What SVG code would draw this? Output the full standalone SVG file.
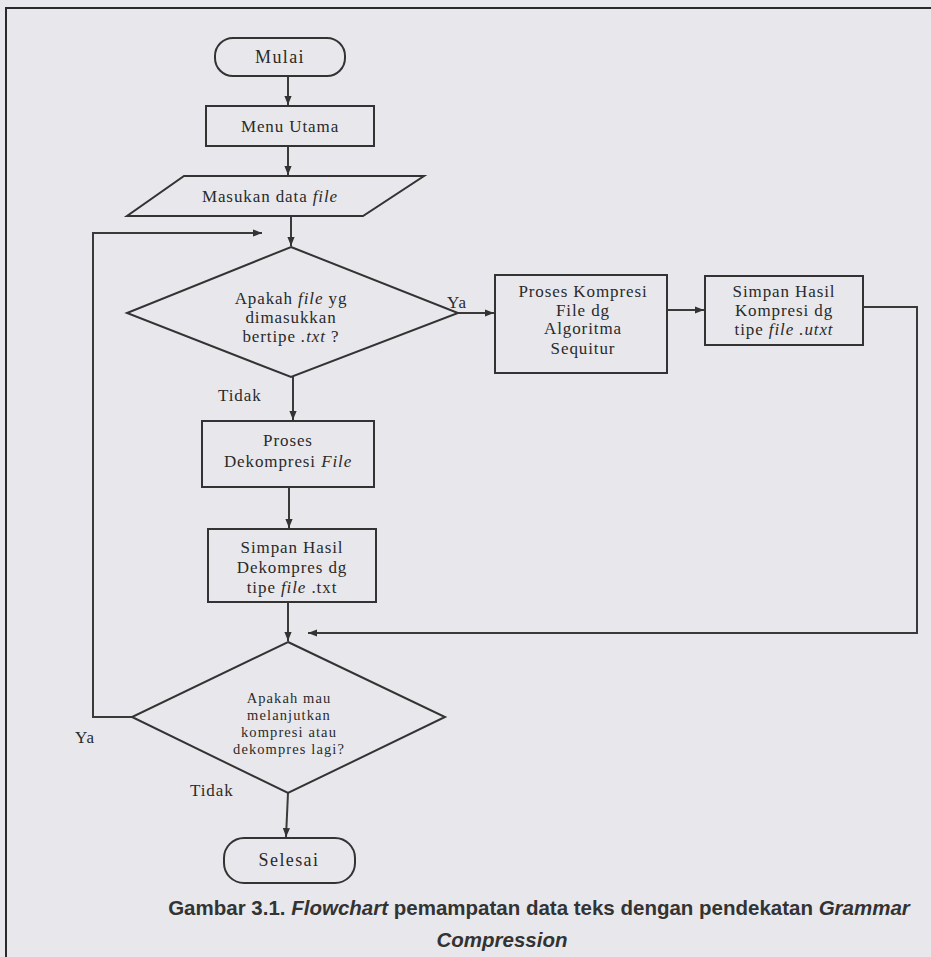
<svg xmlns="http://www.w3.org/2000/svg" width="931" height="957" viewBox="0 0 931 957">
<defs>
<marker id="ah" viewBox="0 0 10 10" refX="10" refY="5" markerWidth="9" markerHeight="9" markerUnits="userSpaceOnUse" orient="auto">
<path d="M0,1 L10,5 L0,9 Z" fill="#333"/>
</marker>
</defs>
<style>
.bg{fill:#e8e8ec}
.frame{fill:none;stroke:#2a2a2a;stroke-width:2}
.shape{fill:none;stroke:#333;stroke-width:2}
.conn{fill:none;stroke:#3a3a3a;stroke-width:2}
.arr{marker-end:url(#ah)}
.t{font-family:"Liberation Serif","Times New Roman",serif;font-size:17px;letter-spacing:0.9px;fill:#2a2a2a;text-anchor:middle}
.s{font-size:14.5px;letter-spacing:1.1px}
.big{font-size:18px;letter-spacing:1.4px}
.lbl{font-family:"Liberation Serif","Times New Roman",serif;font-size:17px;letter-spacing:0.9px;fill:#2a2a2a}
.i{font-style:italic}
.cap{font-family:"Liberation Sans",Arial,sans-serif;font-size:20.5px;font-weight:bold;fill:#333}
</style>
<rect class="bg" x="0" y="0" width="931" height="957"/>
<rect class="frame" x="6" y="8" width="935" height="960"/>

<g id="connectors">
<line class="conn arr" x1="288" y1="76" x2="288" y2="105"/>
<line class="conn arr" x1="288" y1="146" x2="288" y2="175"/>
<line class="conn arr" x1="291" y1="216" x2="291" y2="246"/>
<polyline class="conn arr" points="132,717 93,717 93,233 262,233"/>
<line class="conn arr" x1="458" y1="313" x2="494" y2="313"/>
<line class="conn arr" x1="667" y1="310" x2="704" y2="310"/>
<polyline class="conn arr" points="863,307 917,307 917,633 308,633"/>
<line class="conn arr" x1="293" y1="377" x2="293" y2="420"/>
<line class="conn arr" x1="289" y1="487" x2="289" y2="528"/>
<line class="conn arr" x1="288" y1="602" x2="288" y2="641"/>
<line class="conn arr" x1="288" y1="793" x2="286" y2="837"/>
<text class="lbl" x="447" y="308">Ya</text>
<text class="lbl" x="218" y="401">Tidak</text>
<text class="lbl" x="75" y="743">Ya</text>
<text class="lbl" x="190" y="796">Tidak</text>
</g>

<g id="mulai">
<rect class="shape" x="215" y="38" width="130" height="38" rx="18"/>
<text class="t big" x="280" y="63">Mulai</text>
</g>
<g id="menu-utama">
<rect class="shape" x="206" y="106" width="168" height="40"/>
<text class="t" x="290" y="132">Menu Utama</text>
</g>
<g id="masukan-data">
<polygon class="shape" points="184,176 424,176 363,216 127,216"/>
<text class="t" x="270" y="202">Masukan data <tspan class="i">file</tspan></text>
</g>
<g id="cek-txt">
<polygon class="shape" points="291,247 458,313 291,377 127,313"/>
<text class="t" x="291" y="304">Apakah <tspan class="i">file</tspan> yg</text>
<text class="t" x="291" y="323">dimasukkan</text>
<text class="t" x="291" y="342">bertipe <tspan class="i">.txt</tspan> ?</text>
</g>
<g id="proses-kompresi">
<rect class="shape" x="495" y="275" width="172" height="98"/>
<text class="t" x="583" y="297">Proses Kompresi</text>
<text class="t" x="583" y="316">File dg</text>
<text class="t" x="583" y="334">Algoritma</text>
<text class="t" x="583" y="354">Sequitur</text>
</g>
<g id="simpan-kompresi">
<rect class="shape" x="705" y="276" width="158" height="69"/>
<text class="t" x="784" y="297">Simpan Hasil</text>
<text class="t" x="784" y="316">Kompresi dg</text>
<text class="t" x="784" y="335">tipe <tspan class="i">file .utxt</tspan></text>
</g>
<g id="proses-dekompresi">
<rect class="shape" x="202" y="421" width="172" height="66"/>
<text class="t" x="288" y="446">Proses</text>
<text class="t" x="288" y="467">Dekompresi <tspan class="i">File</tspan></text>
</g>
<g id="simpan-dekompresi">
<rect class="shape" x="208" y="529" width="168" height="73"/>
<text class="t" x="292" y="553">Simpan Hasil</text>
<text class="t" x="292" y="573">Dekompres dg</text>
<text class="t" x="292" y="593">tipe <tspan class="i">file</tspan> .txt</text>
</g>
<g id="cek-lanjut">
<polygon class="shape" points="288,642 445,717 288,793 132,717"/>
<text class="t s" x="289" y="703">Apakah mau</text>
<text class="t s" x="289" y="720">melanjutkan</text>
<text class="t s" x="289" y="737">kompresi atau</text>
<text class="t s" x="289" y="754">dekompres lagi?</text>
</g>
<g id="selesai">
<rect class="shape" x="224" y="838" width="131" height="45" rx="20"/>
<text class="t big" x="289" y="866">Selesai</text>
</g>

<g id="caption">
<text class="cap" x="539" y="915" text-anchor="middle">Gambar 3.1. <tspan font-style="italic">Flowchart</tspan> pemampatan data teks dengan pendekatan <tspan font-style="italic">Grammar</tspan></text>
<text class="cap" x="502" y="947" text-anchor="middle" font-style="italic">Compression</text>
</g>
</svg>
